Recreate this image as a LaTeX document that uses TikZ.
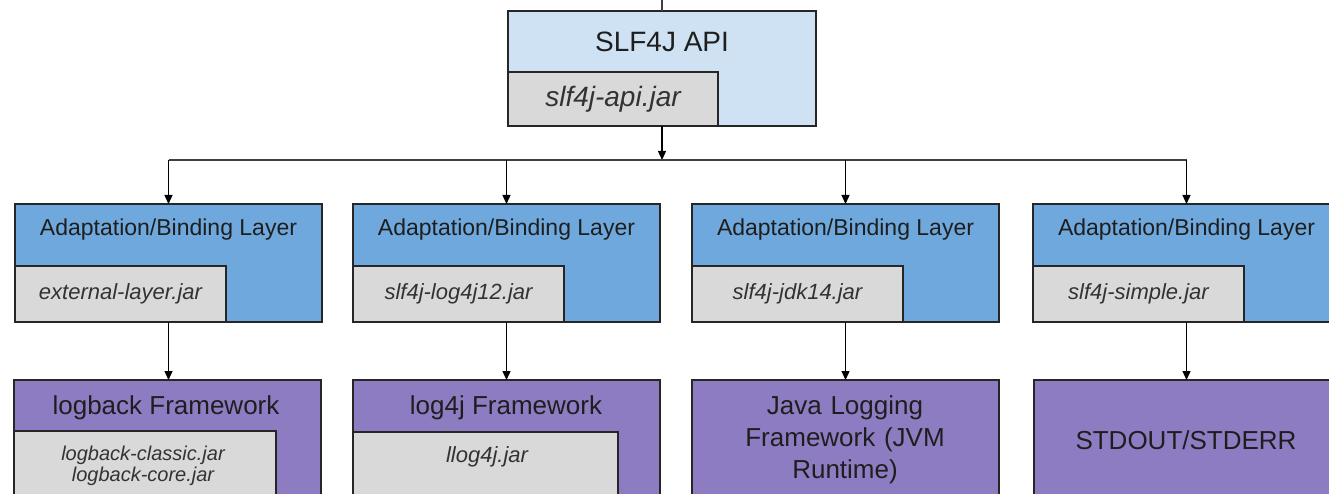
\documentclass[tikz,border=0pt]{standalone}
\usepackage{fontspec}
\setmainfont{Liberation Sans}
\usetikzlibrary{arrows.meta}

\definecolor{apifill}{HTML}{CFE2F3}
\definecolor{bindfill}{HTML}{6FA8DC}
\definecolor{jarfill}{HTML}{D9D9D9}
\definecolor{fwfill}{HTML}{8E7CC3}
\definecolor{edge}{HTML}{262626}
\definecolor{ink}{HTML}{1E1E1E}
\definecolor{jarink}{HTML}{333333}

\newcommand{\fsz}[1]{\fontsize{#1}{#1}\selectfont}

\begin{document}
\begin{tikzpicture}[x=1pt,y=-1pt,
  box/.style={draw=edge, line width=1.6pt, anchor=north west, inner sep=0pt, outer sep=0pt},
  apibox/.style={box, fill=apifill, minimum width=308pt, minimum height=115pt},
  bindbox/.style={box, fill=bindfill, minimum width=307pt, minimum height=118pt},
  fwbox/.style={box, fill=fwfill, minimum width=307pt, minimum height=140pt},
  jarbox/.style={box, fill=jarfill},
  title/.style={text=ink, inner sep=0pt, align=center},
  jartext/.style={text=jarink, inner sep=0pt, align=center, font=\fsz{22}\itshape},
  link/.style={draw=black, line width=1.3pt, -{Triangle[length=9pt,width=8pt]}},
  wire/.style={draw=black!75, line width=1.3pt}
]
\useasboundingbox (0,0) rectangle (1329,494);
\clip (0,0) rectangle (1329,494);

% top level: the SLF4J API
\node[apibox] (api) at (508,11) {};
\node[jarbox, minimum width=210pt, minimum height=54pt] (apijar) at (508,72) {};
\node[title, font=\fsz{28}] (apititle) at (662,42) {SLF4J API};
\node[jartext, font=\fsz{28}\itshape] (apijartext) at (apijar.center) {slf4j-api.jar};
\coordinate (feed) at (api.north |- 0,0);
\draw[wire] (feed) -- (api.north);

% middle level: adaptation / binding layers
\foreach \i/\x/\jar in {1/15/external-layer.jar, 2/353/slf4j-log4j12.jar, 3/692/slf4j-jdk14.jar, 4/1033/slf4j-simple.jar}{
  \node[bindbox] (b\i) at (\x,204) {};
  \node[jarbox, minimum width=211pt, minimum height=56pt] (bj\i) at (\x,266) {};
  \node[title, font=\fsz{23}] (bt\i) at ([yshift=-26pt]b\i.north) {Adaptation/Binding Layer};
  \node[jartext] (bjt\i) at (bj\i.center) {\jar};
}

% bottom level: logging back ends
\foreach \i/\x in {1/14, 2/353, 3/692, 4/1034}{
  \node[fwbox] (f\i) at (\x,380) {};
}
\node[jarbox, minimum width=262pt, minimum height=80pt] (fj1) at (14,431) {};
\node[jarbox, minimum width=265pt, minimum height=80pt] (fj2) at (353,432) {};

\node[title, font=\fsz{26}] (ft1) at (166,408) {logback Framework};
\node[jartext, font=\fsz{20}\itshape] (fjt1) at (143,466) {logback-classic.jar\\[1pt]logback-core.jar};
\node[title, font=\fsz{26}] (ft2) at (506,408) {log4j Framework};
\node[jartext] (fjt2) at (487,457) {llog4j.jar};
\node[title, font=\fsz{26}, text width=300pt] (ft3) at (845,440) {Java Logging\\[6pt]Framework (JVM\\[6pt]Runtime)};
\node[title, font=\fsz{26}] (ft4) at (1186,440) {STDOUT/STDERR};

% connectors
\coordinate (bus) at (api.south |- 0,160);
\draw[link] (api.south) -- (bus);
\draw[wire] (b1.north |- bus) -- (b4.north |- bus);
\foreach \i in {1,2,3,4}{
  \draw[link] (b\i.north |- bus) -- (b\i.north);
  \draw[link] (b\i.south) -- (b\i.south |- f\i.north);
}
\end{tikzpicture}
\end{document}
